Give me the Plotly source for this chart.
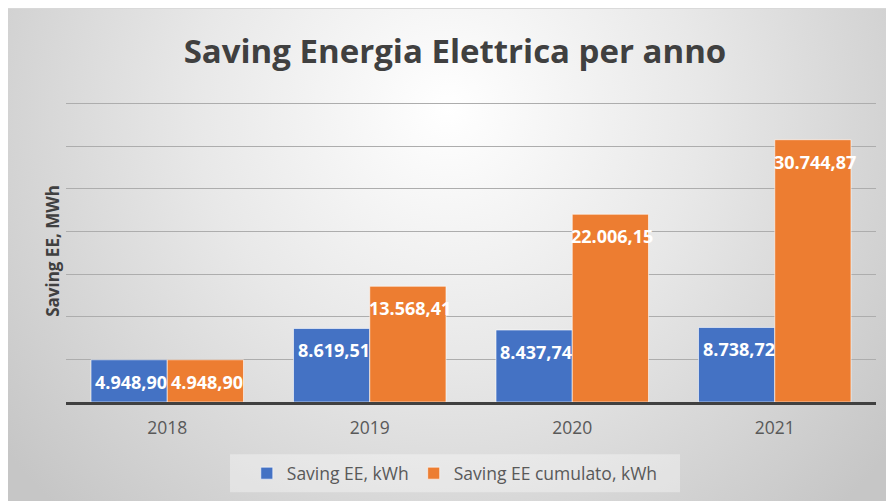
import base64
import plotly.graph_objects as go

years = ["2018", "2019", "2020", "2021"]
saving_ee = [4948.90, 8619.51, 8437.74, 8738.72]
saving_cum = [4948.90, 13568.41, 22006.15, 30744.87]
series_names = ["Saving EE, kWh", "Saving EE cumulato, kWh"]
y_ticks = [0, 5000, 10000, 15000, 20000, 25000, 30000, 35000]

BLUE = "#4472C4"
ORANGE = "#ED7D31"
FONT = "Open Sans"
BARGAP = 0.247
FW, FH = 894, 501
Y_MAX = 35400


def it_fmt(v):
    s = f"{v:,.2f}"
    return s.replace(",", "X").replace(".", ",").replace("X", ".")


# radial gradient background as an inline SVG image
svg = (
    '<svg xmlns="http://www.w3.org/2000/svg" width="894" height="501" viewBox="0 0 894 501" preserveAspectRatio="none">'
    '<defs><radialGradient id="g" gradientUnits="userSpaceOnUse" cx="440" cy="100" r="560">'
    '<stop offset="0" stop-color="#ffffff"/>'
    '<stop offset="0.45" stop-color="#e8e8e8"/>'
    '<stop offset="1" stop-color="#c6c6c6"/>'
    '</radialGradient></defs>'
    '<rect width="894" height="501" fill="url(#g)"/></svg>'
)
svg_uri = "data:image/svg+xml;base64," + base64.b64encode(svg.encode()).decode()

fig = go.Figure()
fig.add_trace(go.Bar(
    x=years, y=saving_ee, name=series_names[0],
    marker=dict(color=BLUE, line=dict(color="rgba(255,255,255,0.6)", width=1)),
))
fig.add_trace(go.Bar(
    x=years, y=saving_cum, name=series_names[1],
    marker=dict(color=ORANGE, line=dict(color="rgba(255,255,255,0.6)", width=1)),
))

half = (1 - BARGAP) / 4
annotations = []
for i, (a, b) in enumerate(zip(saving_ee, saving_cum)):
    for off, v in ((-half, a), (half, b)):
        annotations.append(dict(
            x=i + off, y=v, xref="x", yref="y", text=f"<b>{it_fmt(v)}</b>",
            showarrow=False, yshift=-22, xshift=2, yanchor="middle",
            font=dict(family=FONT, size=18, color="white"),
        ))

# plot area in figure pixels (page is offset by the 8px body margin)
L, R, B = 58, 868, 394.5
T = B - 299.5 * Y_MAX / 35000
W, H = R - L, B - T


def px_x(p):
    return (p - L) / W


def px_y(p):
    return (B - p) / H


fig.update_layout(
    width=FW, height=FH,
    margin=dict(l=L, r=FW - R, t=T, b=FH - B),
    paper_bgcolor="#d8d8d8",
    plot_bgcolor="rgba(0,0,0,0)",
    barmode="group", bargap=BARGAP, bargroupgap=0,
    title=dict(
        text="<b>Saving Energia Elettrica per anno</b>",
        x=0.5, xanchor="center", y=1 - 43 / FH, yanchor="middle",
        font=dict(family=FONT, size=33, color="#404040"),
    ),
    xaxis=dict(
        showline=True, linecolor="#404040", linewidth=3,
        ticks="", showgrid=False,
        tickfont=dict(family=FONT, size=17.5, color="#595959"),
        ticklabelstandoff=8,
    ),
    yaxis=dict(
        range=[0, Y_MAX], tickvals=y_ticks, showticklabels=False,
        showgrid=True, gridcolor="#adadad", gridwidth=1, zeroline=False,
        title=dict(text="<b>Saving EE, MWh</b>", standoff=1,
                   font=dict(family=FONT, size=17, color="#404040")),
    ),
    legend=dict(
        orientation="h", x=0.48, xanchor="center", y=px_y(466), yanchor="middle",
        bgcolor="rgba(0,0,0,0)", font=dict(family=FONT, size=17.5, color="#595959"),
        itemwidth=30, traceorder="normal",
    ),
    images=[dict(
        source=svg_uri, xref="paper", yref="paper",
        x=px_x(0), y=px_y(0), sizex=FW / W, sizey=FH / H,
        xanchor="left", yanchor="top", sizing="stretch", layer="below",
    )],
    shapes=[
        dict(type="rect", xref="paper", yref="paper",
             x0=px_x(222), x1=px_x(672), y0=px_y(485), y1=px_y(447),
             line=dict(width=0), fillcolor="rgba(255,255,255,0.35)", layer="below"),
    ],
    annotations=annotations,
    showlegend=True,
)

fig.write_html("out.html")
